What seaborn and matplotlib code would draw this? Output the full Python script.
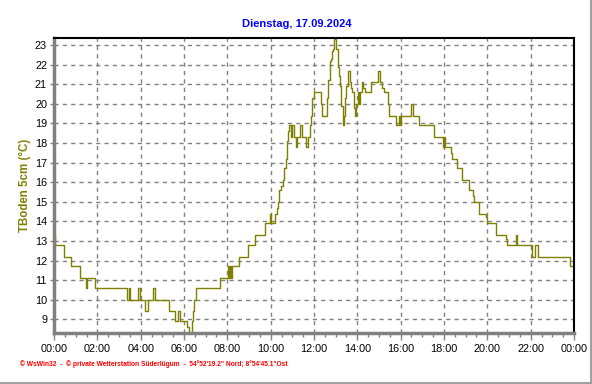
import matplotlib
matplotlib.use("Agg")
import matplotlib.pyplot as plt
from matplotlib.lines import Line2D
from matplotlib.ticker import MultipleLocator, FixedLocator
import seaborn as sns
import pandas as pd

# Step data: start time (HH:MM) and soil temperature (°C)
times = ["00:00","00:02","00:28","00:47","01:12","01:29","01:32","01:53","03:21","03:27",
         "03:31","03:53","03:57","04:13","04:19","04:35","04:39","05:19","05:35","05:44",
         "05:50","06:09","06:13","06:21","06:24","06:28","06:33","07:41","08:01","08:05",
         "08:07","08:11","08:12","08:31","08:56","09:17","09:43","09:57","10:01","10:12",
         "10:17","10:19","10:22","10:29","10:35","10:38","10:43","10:44","10:47","10:50",
         "10:55","10:59","11:04","11:09","11:12","11:20","11:27","11:37","11:43","11:48",
         "11:52","11:55","11:59","12:20","12:23","12:36","12:38","12:43","12:46","12:49",
         "12:52","12:55","13:02","13:06","13:09","13:13","13:16","13:20","13:24","13:27",
         "13:29","13:33","13:35","13:41","13:43","13:46","13:50","13:52","13:53","13:57",
         "14:02","14:06","14:08","14:12","14:16","14:20","14:39","14:56","15:04","15:09",
         "15:13","15:25","15:28","15:46","15:55","15:58","16:01","16:28","16:34","16:51",
         "17:33","17:58","18:00","18:02","18:19","18:23","18:37","18:51","19:09","19:21",
         "19:24","19:38","19:56","19:58","20:23","20:51","20:54","21:20","21:22","22:03",
         "22:05","22:11","22:19","23:50"]
temps = [13.3,12.8,12.2,11.7,11.1,10.6,11.1,10.6,10.0,10.6,
         10.0,10.6,10.0,9.4,10.0,10.6,10.0,9.4,8.9,9.4,
         8.9,8.6,8.3,8.9,9.4,10.0,10.6,11.1,11.7,11.1,
         11.7,11.1,11.7,12.2,12.8,13.3,13.9,14.4,13.9,14.4,
         14.7,15.0,15.6,15.8,16.1,16.7,17.2,18.1,18.6,18.9,
         18.3,18.9,18.3,17.8,18.3,18.9,18.3,17.8,18.3,18.9,
         19.4,20.3,20.6,20.0,19.4,20.3,21.2,22.2,22.3,22.7,
         22.8,23.3,22.8,21.9,21.4,20.9,19.9,18.9,19.4,20.3,
         20.9,21.4,21.7,21.1,20.8,20.6,20.2,19.8,19.4,20.0,
         20.6,20.0,20.6,21.1,20.8,20.6,21.1,21.7,21.1,20.8,
         20.6,20.0,19.4,18.9,19.4,18.9,19.4,20.0,19.4,18.9,
         18.3,17.8,18.3,17.8,17.5,17.2,16.7,16.1,15.6,15.3,
         15.0,14.4,14.2,13.9,13.3,13.1,12.8,13.3,12.8,12.5,
         12.2,12.8,12.2,11.7]
end_time = "24:00"

title = "Dienstag, 17.09.2024"
ylabel = "TBoden 5cm (°C)"
footer = "\u00a9 WsWin32  -  \u00a9 private Wetterstation Süderlügum  -  54°52'19.2\" Nord; 8°54'45.1\"Ost"
xtick_labels = ["00:00","02:00","04:00","06:00","08:00","10:00","12:00",
                "14:00","16:00","18:00","20:00","22:00","00:00"]
ytick_values = list(range(9, 24))

def to_hours(s):
    h, m = s.split(":")
    return int(h) + int(m) / 60.0

hours = [to_hours(t) for t in times] + [to_hours(end_time)]
vals = temps + [temps[-1]]
df = pd.DataFrame({"h": hours, "t": vals})

sns.set_theme(style="white")
plt.rcParams["font.family"] = ["Liberation Sans", "DejaVu Sans"]

fig = plt.figure(figsize=(5.92, 3.84), dpi=100)
fig.patch.set_facecolor("white")
ax = fig.add_axes([54/592, 1-333/384, (574-54)/592, (333-38)/384])

olive = "#808000"
sns.lineplot(data=df, x="h", y="t", ax=ax, color=olive, linewidth=1.0,
             drawstyle="steps-post", estimator=None, sort=False)

ax.set_xlim(0, 24)
ax.set_ylim(8.3, 23.36)
ax.xaxis.set_major_locator(FixedLocator(list(range(0, 25, 2))))
ax.set_xticklabels(xtick_labels)
ax.xaxis.set_minor_locator(MultipleLocator(0.5))
ax.set_yticks(ytick_values)
ax.set_yticklabels([str(v) for v in ytick_values])

ax.grid(True, which="major", color="#808080", linestyle=(0, (3, 3)), linewidth=1)
ax.set_axisbelow(True)

for s in ["left", "bottom"]:
    ax.spines[s].set_color("#808080")
    ax.spines[s].set_linewidth(2.5)
for s in ["top", "right"]:
    ax.spines[s].set_color("black")
    ax.spines[s].set_linewidth(1.5)

ax.tick_params(axis="x", which="major", length=5, width=1, color="#808080",
               labelsize=7.8, labelcolor="black", pad=3, direction="out", bottom=True)
ax.tick_params(axis="x", which="minor", length=3, width=1, color="#808080", bottom=True)
ax.tick_params(axis="y", which="major", length=3, width=1, color="#808080",
               labelsize=7.8, labelcolor="black", pad=2, direction="out", left=True)

ax.set_xlabel("")
ax.set_ylabel(ylabel, color=olive, fontsize=8.3, fontweight="bold", labelpad=6)
ax.yaxis.set_label_coords(-0.044, 0.5)

fig.text(297/592, 1-24/384, title, color="#0000ff", fontsize=8, fontweight="bold",
         ha="center", va="center")
fig.text(20/592, 1-364/384, footer, color="#ff0000", fontsize=4.8, fontweight="bold",
         ha="left", va="center")

fig.add_artist(Line2D([1-1.5/592, 1-1.5/592], [0, 1], color="#a0a0a0", linewidth=1.5,
                      transform=fig.transFigure))
fig.add_artist(Line2D([0, 1], [1.5/384, 1.5/384], color="#a0a0a0", linewidth=1.5,
                      transform=fig.transFigure))

fig.savefig("out.png", dpi=100, facecolor="white")
